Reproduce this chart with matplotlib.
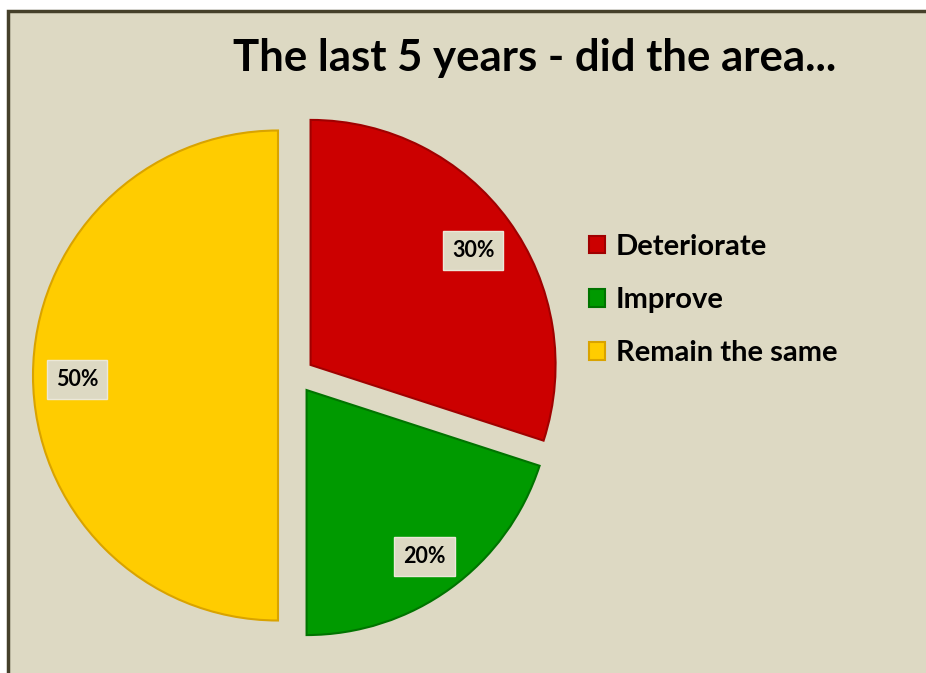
import matplotlib
matplotlib.use("Agg")
import matplotlib.pyplot as plt
from matplotlib.patches import Rectangle

categories = ["Deteriorate", "Improve", "Remain the same"]
values = [30, 20, 50]
colors = ["#CC0000", "#009A00", "#FFCC00"]
edge_colors = ["#A00000", "#007400", "#D9A300"]
title = "The last 5 years - did the area..."

BG = "#DDD9C3"
W, H = 926, 673
fig = plt.figure(figsize=(W / 100, H / 100), dpi=100)
fig.patch.set_facecolor("white")
ax = fig.add_axes([0, 0, 1, 1])
ax.set_xlim(0, W)
ax.set_ylim(0, H)
ax.axis("off")

# chart area background with dark border (left/top visible)
ax.add_patch(Rectangle((8, -20), W + 20, H - 10 + 20 - 1, facecolor=BG,
                       edgecolor="#45402A", linewidth=2.5, zorder=0))

wedges, texts, autotexts = ax.pie(
    values, colors=colors, startangle=90, counterclock=False,
    center=(296, H - 375.5), radius=245, explode=[18, 18, 18],
    autopct=lambda p: f"{p:.0f}%", pctdistance=0.82,
    textprops=dict(fontfamily="Lato", fontweight="bold", fontsize=15.5, color="black"),
    wedgeprops=dict(linewidth=1.5), frame=True)
for w, ec in zip(wedges, edge_colors):
    w.set_edgecolor(ec)
    w.set_zorder(2)
for t in autotexts:
    x, y = t.get_position()
    t.set_position((x, y - 4))
    t.set_bbox(dict(boxstyle="square,pad=0.42", facecolor=BG, edgecolor="#ECE8D8", linewidth=1))
    t.set_zorder(5)
ax.set_xlim(0, W)
ax.set_ylim(0, H)
ax.set_aspect("auto")
ax.axis("off")

fig.text(535 / W, 1 - 58 / H, title, ha="center", va="center",
         fontfamily="Lato", fontweight="bold", fontsize=31.5, color="black")

leg = ax.legend(wedges, categories, loc="center left",
                bbox_to_anchor=(589 / W, 1 - 300 / H),
                frameon=False, prop=dict(family="Lato", weight="bold", size=21),
                handlelength=0.56, handleheight=0.56, handletextpad=0.35,
                labelspacing=0.93, borderaxespad=0, borderpad=0)

fig.savefig("out.png", dpi=100, facecolor=fig.get_facecolor())
